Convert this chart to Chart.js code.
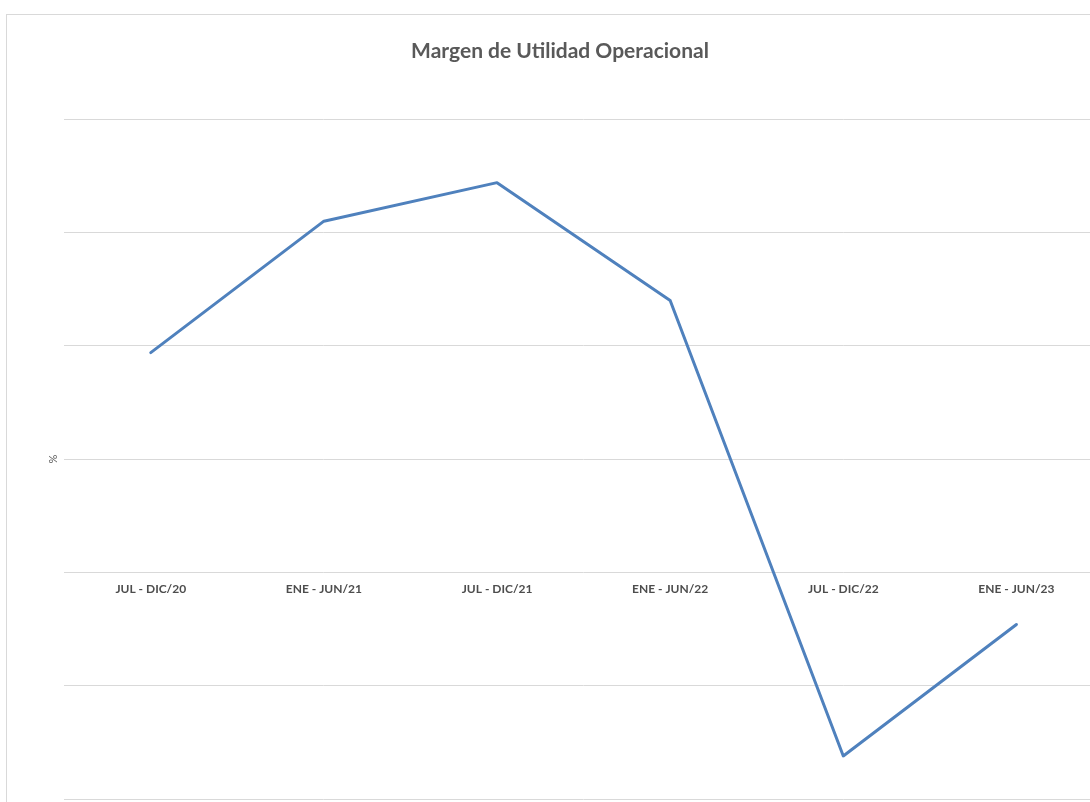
<!DOCTYPE html>
<html>
<head>
<meta charset="utf-8">
<script src="https://cdn.jsdelivr.net/npm/chart.js@4.4.0/dist/chart.umd.min.js"></script>
<style>
  html, body { margin: 0; padding: 0; background: #fff; overflow: hidden; width: 1090px; height: 802px; }
  #box { position: absolute; left: 6px; top: 14px; width: 1108px; height: 800px; border: 1px solid #d9d9d9; box-sizing: border-box; background: #fff; }
  canvas { display: block; }
</style>
</head>
<body>
<div id="box"><canvas id="c" width="1106" height="798"></canvas></div>
<script>
const categories = ['JUL - DIC/20', 'ENE - JUN/21', 'JUL - DIC/21', 'ENE - JUN/22', 'JUL - DIC/22', 'ENE - JUN/23'];
const margenOperacional = [9.7, 15.5, 17.2, 12.0, -8.1, -2.3];
const yMin = -10, yMax = 20, yStep = 5;

new Chart(document.getElementById('c'), {
  type: 'line',
  data: {
    labels: categories,
    datasets: [{
      label: 'Margen de Utilidad Operacional',
      data: margenOperacional,
      borderColor: '#4F81BD',
      borderWidth: 3,
      pointRadius: 0,
      tension: 0,
      borderCapStyle: 'round',
      borderJoinStyle: 'round',
      fill: false
    }]
  },
  options: {
    responsive: false,
    animation: false,
    layout: { padding: { left: 10, right: 10, top: 0, bottom: 14 } },
    plugins: {
      legend: { display: false },
      tooltip: { enabled: false },
      title: {
        display: true,
        text: 'Margen de Utilidad Operacional',
        color: '#595959',
        font: { family: 'Lato, "Open Sans", sans-serif', size: 21, weight: 'bold' },
        padding: { top: 24, bottom: 55 }
      }
    },
    scales: {
      x: {
        position: { y: 0 },
        offset: true,
        grid: { display: false, offset: true },
        border: { display: false },
        ticks: {
          color: '#4d4d4d',
          font: { family: 'Lato, "Open Sans", sans-serif', size: 12, weight: 'bold' },
          padding: 2,
          maxRotation: 0,
          autoSkip: false
        }
      },
      y: {
        min: yMin,
        max: yMax,
        ticks: { display: false, stepSize: yStep },
        grid: { color: '#d9d9d9', lineWidth: 1, drawTicks: false },
        border: { display: false },
        title: {
          display: true,
          text: '%',
          color: '#595959',
          font: { family: 'Lato, "Open Sans", sans-serif', size: 11 },
          padding: { top: 30, bottom: 4 }
        }
      }
    }
  }
});
</script>
</body>
</html>
